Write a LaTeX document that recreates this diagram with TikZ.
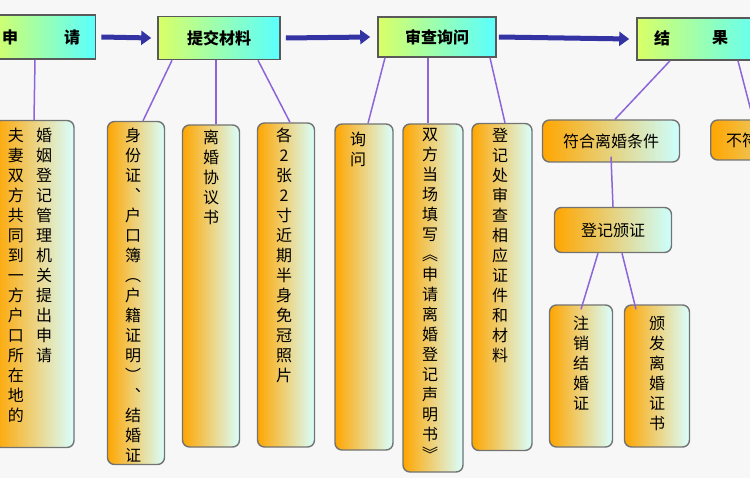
\documentclass[tikz,border=0pt]{standalone}
\usepackage{fontspec}
\newfontfamily\cjk{Noto Sans CJK SC}
\XeTeXlinebreaklocale "zh"
\XeTeXlinebreakskip=0pt plus 1pt
\usetikzlibrary{arrows.meta}
\begin{document}
\begin{tikzpicture}[x=1pt,y=-1pt,
 topbox/.style={draw=black!65,line width=1.6pt,left color=yellow!75!green!60,right color=cyan!65,font=\cjk\fontsize{16}{18}\selectfont\bfseries,inner sep=0pt},
 vbox/.style={draw=black!55,line width=1.4pt,rounded corners=7pt,left color=orange!70!yellow,right color=cyan!15,inner sep=0pt},
 hbox/.style={draw=black!55,line width=1.4pt,rounded corners=7pt,left color=orange!70!yellow,right color=cyan!20,inner sep=0pt,font=\cjk\fontsize{16}{18}\selectfont},
 vtext/.style={anchor=north,text width=16pt,align=center,inner sep=0pt,font=\cjk\fontsize{16}{20}\selectfont},
 link/.style={draw=blue!50!violet!60,line width=1.5pt},
 bigarrow/.style={draw=blue!55!black!80,line width=5pt,-{Triangle[length=10pt,width=14pt]},fill=blue!70}]
\useasboundingbox (0,0) rectangle (750,500);
\fill[black!3] (0,0) rectangle (750,478);
\begin{scope}
\clip (0,0) rectangle (750,500);
% top boxes
\node[topbox,minimum width=105pt,minimum height=44pt] (sq) at (43,37) {};
\node[font=\cjk\fontsize{16}{18}\selectfont\bfseries] (sqa) at (10,37) {申};
\node[font=\cjk\fontsize{16}{18}\selectfont\bfseries] (sqb) at (72,37) {请};
\node[topbox,minimum width=122pt,minimum height=43pt] (tj) at (219,38) {提交材料};
\node[topbox,minimum width=118pt,minimum height=40pt] (sc) at (437,37) {审查询问};
\node[topbox,minimum width=130pt,minimum height=42pt] (jg) at (702,39) {};
\node[font=\cjk\fontsize{16}{18}\selectfont\bfseries] (jga) at (662,38) {结};
\node[font=\cjk\fontsize{16}{18}\selectfont\bfseries] (jgb) at (720,38) {果};
\draw[bigarrow] ([xshift=5pt]sq.east) -- ([xshift=-6pt]tj.west);
\draw[bigarrow] ([xshift=5pt]tj.east) -- ([xshift=-7pt]sc.west);
\draw[bigarrow] ([xshift=2pt]sc.east) -- ([xshift=-7pt]jg.west);
% vertical boxes
\node[vbox,minimum width=80pt,minimum height=327pt] (b1) at (34,284) {};
\node[vtext] (b1r) at (44,128) {婚姻登记管理机关提出申请};
\node[vtext] (b1l) at (16,128) {夫妻双方共同到一方户口所在地的};
\node[vbox,minimum width=57pt,minimum height=343pt] (b2) at (136,293) {};
\node[vtext] (b2t) at (133,128) {身份证\\︑\\户口簿\\︵\\户籍证明\\︶\\︑\\结婚证};
\node[vbox,minimum width=57pt,minimum height=322pt] (b3) at (211,286) {};
\node[vtext] (b3t) at (211,130) {离婚协议书};
\node[vbox,minimum width=57pt,minimum height=324pt] (b4) at (286,285) {};
\node[vtext] (b4t) at (284,128) {各2张2寸近期半身免冠照片};
\node[vbox,minimum width=58pt,minimum height=326pt] (b5) at (364,287) {};
\node[vtext] (b5t) at (358,132) {询问};
\node[vbox,minimum width=60pt,minimum height=348pt] (b6) at (433,298) {};
\node[vtext] (b6t) at (430,128) {双方当场填写\\︽\\申请离婚登记声明书\\︾};
\node[vbox,minimum width=60pt,minimum height=327pt] (b7) at (502,287) {};
\node[vtext] (b7t) at (500,128) {登记处审查相应证件和材料};
\node[hbox,minimum width=137pt,minimum height=42pt] (fh) at (611,141) {符合离婚条件};
\node[hbox,minimum width=137pt,minimum height=40pt,anchor=west] (bf) at (710,140) {\hspace*{6pt}不符合离婚条件\hfill};
\node[hbox,minimum width=117pt,minimum height=45pt] (dj) at (613,230) {登记颁证};
\node[vbox,minimum width=63pt,minimum height=142pt] (zx) at (581,376) {};
\node[vtext] (zxt) at (581,316) {注销结婚证};
\node[vbox,minimum width=65pt,minimum height=142pt] (bfz) at (657,376) {};
\node[vtext] (bfzt) at (657,316) {颁发离婚证书};
% links
\draw[link] ([xshift=-8pt]sq.south) -- (b1.north);
\draw[link] ([xshift=-47pt]tj.south) -- ([xshift=7pt]b2.north);
\draw[link] ([xshift=-3pt]tj.south) -- ([xshift=5pt]b3.north);
\draw[link] ([xshift=39pt]tj.south) -- ([xshift=4pt]b4.north);
\draw[link] ([xshift=-52pt]sc.south) -- ([xshift=4pt]b5.north);
\draw[link] ([xshift=-9pt]sc.south) -- ([xshift=-5pt]b6.north);
\draw[link] ([xshift=53pt]sc.south) -- ([xshift=3pt]b7.north);
\draw[link] ([xshift=-32pt]jg.south) -- ([xshift=4pt]fh.north);
\draw[link] ([xshift=36pt]jg.south) -- ([xshift=-26pt]bf.north);
\draw[link] ([yshift=6pt]fh.south) -- (dj.north);
\draw[link] ([xshift=-15pt]dj.south) -- ([yshift=-5pt]zx.north);
\draw[link] ([xshift=9pt]dj.south) -- ([xshift=-21pt,yshift=-5pt]bfz.north);
\end{scope}
\end{tikzpicture}
\end{document}
